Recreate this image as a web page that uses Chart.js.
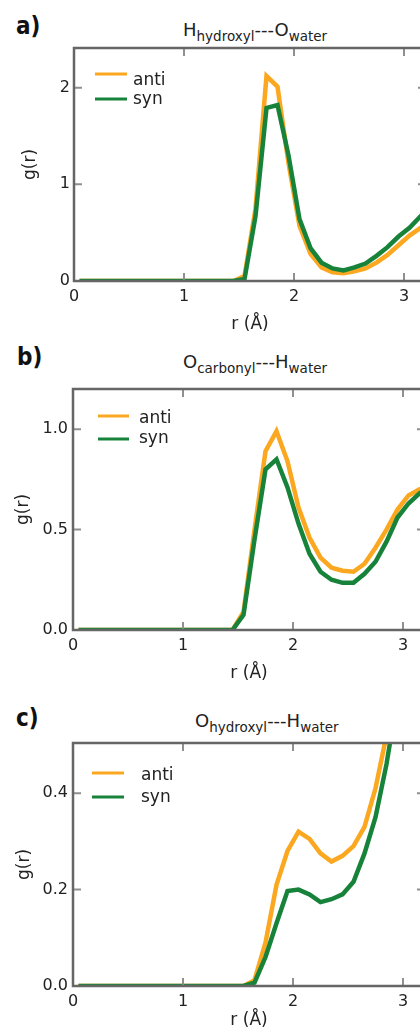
<!DOCTYPE html>
<html>
<head>
<meta charset="utf-8">
<script src="https://cdn.jsdelivr.net/npm/chart.js@4.4.1/dist/chart.umd.min.js"></script>
<style>
html, body { margin: 0; padding: 0; background: #fff; overflow: hidden; width: 420px; height: 1032px; }
canvas { position: absolute; left: 0; }
.ttl { position: absolute; font-family: 'DejaVu Sans', sans-serif; font-size: 18px; line-height: 1; color: #222; white-space: nowrap; }
.ttl sub { font-size: 13.5px; vertical-align: -5px; line-height: 0; }
.lab { position: absolute; font-family: 'Liberation Sans Narrow', 'DejaVu Sans Condensed', sans-serif; font-weight: bold; font-size: 24px; line-height: 1; color: #111; }
</style>
</head>
<body>
<div class="lab" style="left:16px;top:14px">a)</div>
<div class="ttl" style="left:183px;top:21px">H<sub>hydroxyl</sub>---O<sub>water</sub></div>
<div class="lab" style="left:17px;top:345px">b)</div>
<div class="ttl" style="left:183px;top:353px">O<sub>carbonyl</sub>---H<sub>water</sub></div>
<div class="lab" style="left:16px;top:706px">c)</div>
<div class="ttl" style="left:195px;top:712px">O<sub>hydroxyl</sub>---H<sub>water</sub></div>

<canvas id="pa" width="460" height="345" style="top:0px"></canvas>
<canvas id="pb" width="460" height="365" style="top:330px"></canvas>
<canvas id="pc" width="460" height="342" style="top:690px"></canvas>

<script>
// r (Angstrom) sample points, shared by all three panels
var rValues = [0.05, 0.15, 0.25, 0.35, 0.45, 0.55, 0.65, 0.75, 0.85, 0.95, 1.05,
               1.15, 1.25, 1.35, 1.45, 1.55, 1.65, 1.75, 1.85, 1.95, 2.05, 2.15,
               2.25, 2.35, 2.45, 2.55, 2.65, 2.75, 2.85, 2.95, 3.05, 3.15, 3.25];

var seriesNames = ['anti', 'syn'];

// a) H hydroxyl --- O water
var antiA = [0, 0, 0, 0, 0, 0, 0, 0, 0, 0, 0, 0, 0, 0, 0,
             0.05, 0.75, 2.12, 2.01, 1.22, 0.57, 0.28, 0.14, 0.09, 0.08, 0.10,
             0.13, 0.19, 0.27, 0.37, 0.47, 0.55, 0.63];
var synA  = [0, 0, 0, 0, 0, 0, 0, 0, 0, 0, 0, 0, 0, 0, 0,
             0.02, 0.67, 1.79, 1.82, 1.30, 0.64, 0.34, 0.19, 0.13, 0.11, 0.14,
             0.18, 0.26, 0.35, 0.46, 0.55, 0.67, 0.78];

// b) O carbonyl --- H water
var antiB = [0, 0, 0, 0, 0, 0, 0, 0, 0, 0, 0, 0, 0, 0, 0,
             0.09, 0.50, 0.89, 0.99, 0.84, 0.61, 0.46, 0.36, 0.31, 0.295, 0.29,
             0.33, 0.41, 0.50, 0.60, 0.67, 0.70, 0.72];
var synB  = [0, 0, 0, 0, 0, 0, 0, 0, 0, 0, 0, 0, 0, 0, 0,
             0.075, 0.45, 0.80, 0.85, 0.71, 0.53, 0.38, 0.29, 0.25, 0.235, 0.235,
             0.28, 0.34, 0.44, 0.56, 0.63, 0.68, 0.71];

// c) O hydroxyl --- H water
var antiC = [0, 0, 0, 0, 0, 0, 0, 0, 0, 0, 0, 0, 0, 0, 0,
             0, 0.012, 0.09, 0.21, 0.28, 0.32, 0.305, 0.275, 0.258, 0.27, 0.29,
             0.33, 0.41, 0.52, 0.66, 0.80, 0.95, 1.05];
var synC  = [0, 0, 0, 0, 0, 0, 0, 0, 0, 0, 0, 0, 0, 0, 0,
             0, 0.007, 0.06, 0.13, 0.197, 0.20, 0.19, 0.174, 0.18, 0.19, 0.216,
             0.275, 0.35, 0.46, 0.60, 0.75, 0.90, 1.00];

var xTicks = [0, 1, 2, 3];
var yTicksA = [0, 1, 2];
var yTicksB = [0, 0.5, 1.0];
var yTicksC = [0, 0.2, 0.4];

var ORANGE = '#fba71f';
var GREEN = '#17833a';
var tickFont = { family: 'DejaVu Sans', size: 16 };

function pts(ys) {
    return rValues.map(function (r, i) { return { x: r, y: ys[i] }; });
}

// matplotlib-like box with inward ticks plus an inner legend
var frame = {
    id: 'frame',
    afterDatasetsDraw: function (chart, args, o) {
        var ctx = chart.ctx, a = chart.chartArea;
        var x = chart.scales.x, y = chart.scales.y;
        ctx.save();
        ctx.strokeStyle = '#909090';
        ctx.lineWidth = 2;
        ctx.beginPath();
        x.ticks.forEach(function (t) {
            var px = x.getPixelForValue(t.value);
            ctx.moveTo(px, a.bottom); ctx.lineTo(px, a.bottom - 8);
            ctx.moveTo(px, a.top); ctx.lineTo(px, a.top + 8);
        });
        y.ticks.forEach(function (t) {
            var py = y.getPixelForValue(t.value);
            ctx.moveTo(a.left, py); ctx.lineTo(a.left + 8, py);
            ctx.moveTo(a.right, py); ctx.lineTo(a.right - 8, py);
        });
        ctx.stroke();
        ctx.strokeStyle = '#666';
        ctx.lineWidth = 2.5;
        ctx.strokeRect(a.left, a.top, a.right - a.left, a.bottom - a.top);

        // legend
        ctx.font = '17px "DejaVu Sans"';
        ctx.fillStyle = '#222';
        ctx.textBaseline = 'alphabetic';
        ctx.lineWidth = 3;
        chart.data.datasets.forEach(function (ds, i) {
            var row = o.rows[i];
            ctx.strokeStyle = ds.borderColor;
            ctx.beginPath();
            ctx.moveTo(a.left + o.x0, a.top + row[0]);
            ctx.lineTo(a.left + o.x1, a.top + row[0]);
            ctx.stroke();
            ctx.fillText(ds.label, a.left + o.tx, a.top + row[1]);
        });
        ctx.restore();
    }
};

function makeChart(id, anti, syn, yMax, yTicks, decimals, lay) {
    new Chart(document.getElementById(id), {
        type: 'line',
        data: {
            datasets: [
                { label: seriesNames[0], data: pts(anti), borderColor: ORANGE, borderWidth: 4.5, order: 1 },
                { label: seriesNames[1], data: pts(syn), borderColor: GREEN, borderWidth: 4.5, order: 0 }
            ]
        },
        options: {
            responsive: false,
            animation: false,
            layout: { padding: { top: lay.top, left: 0, right: lay.right, bottom: 0 } },
            elements: { point: { radius: 0 }, line: { tension: 0, borderJoinStyle: 'miter' } },
            plugins: {
                legend: { display: false },
                tooltip: { enabled: false },
                frame: lay.legend
            },
            scales: {
                x: {
                    type: 'linear', min: 0, max: 3.2,
                    grid: { display: false, drawTicks: false },
                    border: { display: false },
                    afterBuildTicks: function (s) { s.ticks = xTicks.map(function (v) { return { value: v }; }); },
                    afterFit: function (s) { s.height = lay.xh; },
                    ticks: { font: tickFont, color: '#222', padding: 6, maxRotation: 0,
                             callback: function (v) { return String(v); } },
                    title: { display: true, text: 'r (Å)', font: { family: 'DejaVu Sans', size: 17 }, color: '#222',
                             padding: { top: 0, bottom: lay.xtp } }
                },
                y: {
                    min: 0, max: yMax,
                    grid: { display: false, drawTicks: false },
                    border: { display: false },
                    afterBuildTicks: function (s) { s.ticks = yTicks.map(function (v) { return { value: v }; }); },
                    afterFit: function (s) { s.width = lay.left; },
                    ticks: { font: tickFont, color: '#222', padding: lay.ytp,
                             callback: function (v) { return Number(v).toFixed(decimals); } },
                    title: { display: true, text: 'g(r)', font: { family: 'DejaVu Sans', size: 17 }, color: '#222',
                             padding: { top: lay.ytt, bottom: 0 } }
                }
            }
        },
        plugins: [frame]
    });
}

makeChart('pa', antiA, synA, 2.41, yTicksA, 0, {
    top: 48, left: 74, right: 34, xh: 64, xtp: 10, ytp: 4, ytt: 20,
    legend: { x0: 21, x1: 53, tx: 59, rows: [[26, 37], [51, 56]] }
});
makeChart('pb', antiB, synB, 1.2, yTicksB, 1, {
    top: 59, left: 73, right: 35, xh: 65, xtp: 11, ytp: 5, ytt: 13,
    legend: { x0: 25, x1: 56, tx: 66, rows: [[27, 34], [50, 54]] }
});
makeChart('pc', antiC, synC, 0.504, yTicksC, 1, {
    top: 53, left: 73, right: 35, xh: 46, xtp: 1, ytp: 5, ytt: 14,
    legend: { x0: 19, x1: 51, tx: 68, rows: [[30, 37], [54, 59]] }
});
</script>
</body>
</html>
